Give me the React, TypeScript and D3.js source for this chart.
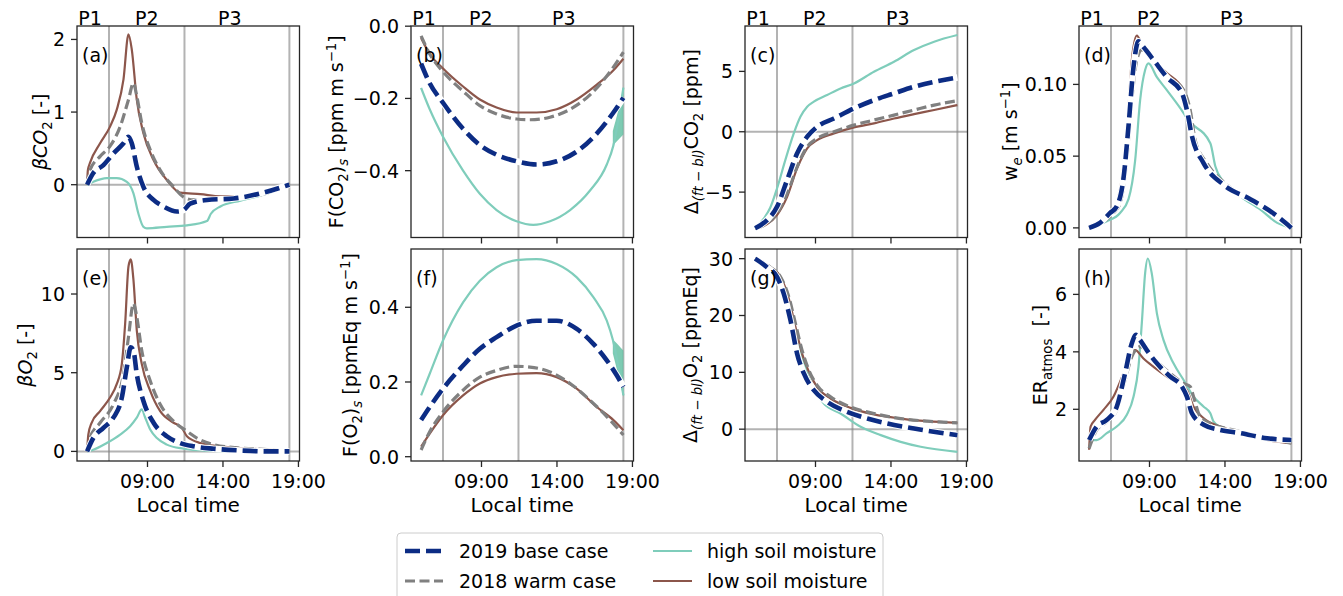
import React from 'react';
import * as d3 from 'd3';

type P = [number, number];

// ---------- shared axis data ----------
const TIME_TICKS = [9, 14, 19];
const TIME_TICK_LABELS = ['09:00', '14:00', '19:00'];
const PERIOD_BOUNDS = [6.45, 11.45, 18.4];
const PERIOD_NAMES = ['P1', 'P2', 'P3'];
const PERIOD_NAME_TIMES = [5.2, 8.95, 14.45];
const SERIES_NAMES = ['2019 base case', '2018 warm case', 'high soil moisture', 'low soil moisture'];

// ---------- (a) beta CO2 ----------
const A_BASE: P[] = [[5.0,0],[5.41,0.16],[6.08,0.27],[6.74,0.43],[7.41,0.57],[7.74,0.66],[7.96,0.57],[8.29,0.25],[8.73,-0.03],[9.40,-0.21],[10.06,-0.30],[10.95,-0.37],[11.39,-0.35],[11.83,-0.26],[12.94,-0.21],[14.71,-0.19],[16.48,-0.12],[18.4,0]];
const A_WARM: P[] = [[5.0,0],[5.19,0.2],[5.86,0.39],[6.52,0.53],[7.19,0.8],[7.74,1.17],[8.07,1.40],[8.29,1.22],[8.62,0.85],[9.18,0.48],[9.84,0.2],[10.73,-0.03],[11.39,-0.17],[12.05,-0.21],[12.94,-0.21],[14.71,-0.19],[16.48,-0.14],[18.4,0]];
const A_HIGH: P[] = [[5.0,0],[5.41,0.04],[6.3,0.09],[6.96,0.09],[7.63,0.04],[8.07,-0.12],[8.40,-0.40],[8.73,-0.58],[8.96,-0.60],[10.28,-0.58],[11.61,-0.56],[12.94,-0.50],[13.2,-0.40],[13.83,-0.30],[15.15,-0.22],[16.48,-0.15],[17.5,-0.08],[18.4,0.02]];
const A_LOW: P[] = [[5.0,0.0],[5.05,0.2],[5.19,0.3],[5.86,0.57],[6.52,0.80],[6.96,1.03],[7.41,1.45],[7.74,2.07],[7.96,1.86],[8.29,1.17],[8.73,0.71],[9.40,0.34],[10.28,0.065],[11.17,-0.11],[12.5,-0.13],[13.83,-0.16],[15.15,-0.16],[16.48,-0.13],[17.37,-0.07],[18.4,0.02]];
const A_TICKS = [0, 1, 2];

// ---------- (b) F(CO2)s ----------
const B_BASE: P[] = [[5.0,-0.104],[5.57,-0.158],[6.45,-0.212],[7.78,-0.284],[8.89,-0.329],[10.0,-0.356],[11.32,-0.374],[12.65,-0.383],[13.98,-0.374],[15.31,-0.347],[16.64,-0.297],[17.74,-0.239],[18.4,-0.198]];
const B_WARM: P[] = [[5.0,-0.027],[5.57,-0.077],[6.45,-0.126],[7.78,-0.18],[8.89,-0.22],[10.0,-0.243],[11.32,-0.257],[12.21,-0.259],[13.54,-0.252],[14.87,-0.23],[16.19,-0.19],[17.52,-0.126],[18.4,-0.072]];
const B_HIGH: P[] = [[5.0,-0.171],[5.57,-0.23],[6.45,-0.306],[7.78,-0.40],[8.89,-0.464],[10.0,-0.509],[11.32,-0.54],[12.43,-0.55],[13.54,-0.54],[14.87,-0.509],[16.19,-0.455],[17.3,-0.383],[17.74,-0.33],[18.4,-0.17]];
const B_LOW: P[] = [[5.0,-0.033],[5.57,-0.077],[6.45,-0.117],[7.78,-0.167],[8.89,-0.203],[10.0,-0.225],[11.32,-0.239],[12.65,-0.239],[13.98,-0.23],[15.31,-0.203],[16.64,-0.162],[17.74,-0.122],[18.4,-0.09]];
const B_FILL_T = [17.7, 18.05, 18.4];
const B_FILL_LO = [-0.33, -0.315, -0.30];
const B_FILL_HI = [-0.29, -0.235, -0.17];
const B_TICKS = [0, -0.2, -0.4];

// ---------- (c) Delta CO2 ----------
const C_BASE: P[] = [[5.0,-8.0],[5.79,-7.32],[6.45,-6.22],[7.12,-4.0],[7.78,-1.8],[8.45,-0.41],[9.11,0.41],[10.22,1.1],[11.55,1.93],[12.87,2.62],[14.2,3.18],[15.53,3.73],[16.86,4.14],[18.4,4.5]];
const C_WARM: P[] = [[5.0,-8.0],[5.79,-7.6],[6.45,-6.77],[7.12,-5.11],[7.78,-2.9],[8.45,-1.24],[9.11,-0.55],[10.22,0],[11.55,0.55],[12.87,0.97],[14.2,1.38],[15.53,1.80],[16.86,2.21],[18.4,2.57]];
const C_HIGH: P[] = [[5.0,-8.0],[5.57,-7.2],[6.0,-6.3],[6.45,-4.7],[7.0,-2.35],[7.56,-0.14],[8.0,1.24],[8.45,2.07],[8.89,2.49],[9.77,3.04],[10.66,3.59],[11.55,4.0],[12.87,4.97],[14.2,5.8],[15.53,6.77],[16.86,7.46],[18.4,8.01]];
const C_LOW: P[] = [[5.0,-8.0],[5.79,-7.65],[6.45,-6.9],[7.12,-5.39],[7.78,-3.04],[8.45,-1.38],[9.11,-0.69],[10.22,-0.14],[11.55,0.36],[12.87,0.69],[14.2,1.1],[15.53,1.46],[16.86,1.8],[18.4,2.21]];
const C_TICKS = [-5, 0, 5];

// ---------- (d) we ----------
const D_BASE: P[] = [[5.0,0],[5.72,0.0035],[6.39,0.0104],[6.83,0.015],[7.27,0.034],[7.61,0.071],[7.94,0.112],[8.27,0.130],[8.60,0.126],[9.27,0.117],[10.15,0.105],[11.15,0.094],[11.48,0.082],[11.81,0.064],[12.59,0.045],[13.91,0.030],[15.68,0.020],[17.23,0.010],[18.4,0]];
const D_WARM: P[] = [[5.0,0],[5.72,0.003],[6.61,0.0104],[7.05,0.017],[7.49,0.047],[7.83,0.089],[8.16,0.117],[8.49,0.124],[9.04,0.119],[10.15,0.106],[11.26,0.096],[11.7,0.082],[12.03,0.061],[12.81,0.045],[14.13,0.030],[15.68,0.020],[17.23,0.010],[18.4,0]];
const D_HIGH: P[] = [[5.0,0],[6.17,0.0046],[7.05,0.0104],[7.61,0.020],[8.05,0.047],[8.38,0.089],[8.71,0.110],[8.93,0.1146],[9.49,0.105],[10.15,0.096],[11.26,0.080],[11.5,0.076],[13.03,0.059],[13.36,0.043],[13.91,0.032],[15.02,0.022],[16.35,0.0127],[17.46,0.0035],[18.4,0]];
const D_LOW: P[] = [[5.0,0],[5.72,0.0035],[6.39,0.0093],[6.83,0.017],[7.27,0.043],[7.61,0.084],[7.83,0.117],[8.16,0.134],[8.49,0.128],[9.04,0.119],[10.15,0.108],[11.26,0.096],[11.48,0.078],[11.92,0.059],[12.81,0.043],[14.13,0.029],[15.68,0.020],[17.23,0.010],[18.4,0.001]];
const D_TICKS = [0, 0.05, 0.1];

// ---------- (e) beta O2 ----------
const E_BASE: P[] = [[5.0,0],[5.41,0.85],[6.08,1.5],[6.74,2.14],[7.30,3.42],[7.63,5.34],[7.89,6.62],[8.07,6.41],[8.29,4.91],[8.73,3.2],[9.40,1.82],[10.28,0.96],[11.17,0.53],[12.05,0.32],[13.38,0.17],[15.15,0.06],[16.92,0],[18.4,0]];
const E_WARM: P[] = [[5.0,0],[5.19,0.85],[5.86,1.82],[6.74,2.99],[7.41,4.91],[7.74,7.26],[8.07,9.4],[8.29,8.55],[8.62,6.41],[9.18,4.49],[9.84,2.99],[10.73,1.92],[11.61,1.28],[12.27,0.85],[13.38,0.43],[15.15,0.21],[16.92,0.11],[18.4,0]];
const E_HIGH: P[] = [[5.0,0],[5.41,0.1],[6.30,0.53],[7.19,1.07],[7.85,1.6],[8.29,2.14],[8.62,2.67],[8.85,2.14],[9.18,1.39],[9.62,0.85],[10.28,0.43],[11.39,0.17],[12.94,0.04],[14.71,0],[18.4,0]];
const E_LOW: P[] = [[5.0,0],[5.08,1.07],[5.30,1.82],[5.86,2.56],[6.52,3.42],[6.96,4.27],[7.30,5.56],[7.52,8.12],[7.74,11.75],[7.89,12.2],[8.07,10.9],[8.29,7.69],[8.62,5.56],[9.18,3.85],[9.84,2.56],[10.73,1.82],[11.28,1.5],[11.61,0.96],[12.5,0.53],[13.83,0.32],[15.15,0.21],[16.92,0.11],[18.4,0.04]];
const E_TICKS = [0, 5, 10];

// ---------- (f) F(O2)s ----------
const F_BASE: P[] = [[5.0,0.098],[5.57,0.133],[6.45,0.182],[7.78,0.244],[8.89,0.289],[10.0,0.32],[11.32,0.351],[12.65,0.364],[13.98,0.364],[15.31,0.342],[16.41,0.302],[17.3,0.258],[17.96,0.218],[18.4,0.187]];
const F_WARM: P[] = [[5.0,0.018],[5.57,0.067],[6.45,0.12],[7.78,0.178],[8.89,0.213],[10.0,0.231],[11.32,0.242],[12.21,0.24],[13.54,0.227],[14.87,0.196],[16.19,0.151],[17.52,0.098],[18.4,0.058]];
const F_HIGH: P[] = [[5.0,0.164],[5.57,0.222],[6.45,0.311],[7.78,0.413],[8.89,0.471],[10.0,0.507],[11.32,0.526],[12.65,0.529],[13.98,0.516],[15.31,0.48],[16.41,0.427],[17.3,0.364],[17.7,0.313],[18.4,0.164]];
const F_LOW: P[] = [[5.0,0.027],[5.57,0.062],[6.45,0.111],[7.78,0.164],[8.89,0.196],[10.0,0.213],[11.32,0.222],[12.65,0.224],[13.98,0.213],[15.31,0.182],[16.64,0.133],[17.74,0.098],[18.4,0.071]];
const F_FILL_T = [17.7, 18.05, 18.4];
const F_FILL_LO = [0.276, 0.22, 0.16];
const F_FILL_HI = [0.313, 0.30, 0.284];
const F_TICKS = [0, 0.2, 0.4];

// ---------- (g) Delta O2 ----------
const G_BASE: P[] = [[5.0,30],[5.79,28.5],[6.45,26.8],[6.90,23.8],[7.34,19.2],[7.78,13.3],[8.23,9.8],[8.89,6.85],[9.77,4.8],[11.1,3.05],[12.43,1.87],[13.76,1.0],[15.53,0.12],[18.4,-1.05]];
const G_WARM: P[] = [[5.0,30],[6.01,28.5],[6.68,26.8],[7.23,23.3],[7.67,18.6],[8.11,13.9],[8.56,10.4],[9.11,7.7],[10.0,5.7],[11.32,3.9],[12.87,2.75],[14.64,1.87],[16.41,1.4],[18.4,1.1]];
const G_HIGH: P[] = [[5.0,30],[5.79,28.5],[6.45,26.8],[7.0,23.3],[7.56,18.0],[8.0,13.9],[8.45,9.8],[8.89,7.15],[9.55,4.5],[10.66,2.75],[11.99,0.41],[13.32,-1.05],[14.64,-2.23],[15.97,-3.1],[18.4,-3.98]];
const G_LOW: P[] = [[5.0,30],[6.01,28.5],[6.68,26.8],[7.23,23.0],[7.67,18.0],[8.11,13.3],[8.56,10.1],[9.11,7.4],[10.0,5.4],[11.32,3.75],[12.87,2.6],[14.64,1.87],[16.41,1.4],[18.4,1.1]];
const G_TICKS = [0, 10, 20, 30];

// ---------- (h) ER atmos ----------
const H_BASE: P[] = [[5.0,0.93],[5.5,1.40],[6.17,1.63],[6.83,2.09],[7.38,3.25],[7.83,4.30],[8.11,4.59],[8.38,4.41],[8.82,4.06],[9.49,3.6],[10.37,3.14],[11.15,2.79],[11.48,2.44],[11.81,1.86],[12.59,1.46],[13.69,1.28],[15.02,1.17],[16.79,0.99],[18.4,0.93]];
const H_WARM: P[] = [[5.0,0.64],[5.5,1.28],[6.17,1.57],[6.83,1.98],[7.38,3.02],[7.83,3.83],[8.38,4.18],[8.82,4.06],[9.49,3.66],[10.37,3.25],[11.26,2.9],[11.70,2.79],[11.92,2.44],[12.36,1.74],[13.25,1.46],[14.58,1.28],[16.35,1.05],[18.4,0.82]];
const H_HIGH: P[] = [[5.0,0.93],[5.5,0.93],[6.17,1.17],[6.83,1.40],[7.49,1.80],[7.94,2.44],[8.27,3.48],[8.49,4.99],[8.71,6.73],[8.89,7.25],[9.15,6.73],[9.49,5.34],[9.93,4.41],[10.59,3.6],[11.26,3.02],[11.92,2.44],[12.59,2.09],[13.03,1.86],[13.25,1.57],[14.13,1.28],[15.46,1.11],[16.79,0.93],[18.4,0.88]];
const H_LOW: P[] = [[5.0,0.59],[5.1,1.4],[5.39,1.63],[5.95,1.98],[6.61,2.44],[7.27,3.25],[7.72,3.89],[8.05,4.06],[8.60,3.77],[9.27,3.48],[10.15,3.14],[11.04,2.85],[11.48,2.67],[11.92,2.09],[12.59,1.69],[13.69,1.40],[15.02,1.17],[16.79,0.93],[18.4,0.82]];
const H_TICKS = [2, 4, 6];

// ---------- labels ----------
type Seg = { t: string; s?: 'sub' | 'sup'; i?: boolean };
const YLAB_A: Seg[] = [{ t: 'βCO', i: true }, { t: '2', s: 'sub' }, { t: ' [-]' }];
const YLAB_B: Seg[] = [{ t: 'F(CO' }, { t: '2', s: 'sub' }, { t: ')' }, { t: 's', s: 'sub', i: true }, { t: ' [ppm m s' }, { t: '−1', s: 'sup' }, { t: ']' }];
const YLAB_C: Seg[] = [{ t: 'Δ' }, { t: '(ft − bl)', s: 'sub', i: true }, { t: 'CO' }, { t: '2', s: 'sub' }, { t: ' [ppm]' }];
const YLAB_D: Seg[] = [{ t: 'w' }, { t: 'e', s: 'sub', i: true }, { t: ' [m s' }, { t: '−1', s: 'sup' }, { t: ']' }];
const YLAB_E: Seg[] = [{ t: 'βO', i: true }, { t: '2', s: 'sub' }, { t: ' [-]' }];
const YLAB_F: Seg[] = [{ t: 'F(O' }, { t: '2', s: 'sub' }, { t: ')' }, { t: 's', s: 'sub', i: true }, { t: ' [ppmEq m s' }, { t: '−1', s: 'sup' }, { t: ']' }];
const YLAB_G: Seg[] = [{ t: 'Δ' }, { t: '(ft − bl)', s: 'sub', i: true }, { t: 'O' }, { t: '2', s: 'sub' }, { t: ' [ppmEq]' }];
const YLAB_H: Seg[] = [{ t: 'ER' }, { t: 'atmos', s: 'sub' }, { t: '  [-]' }];

// ---------- layout / style ----------
const W = 1343, H = 596;
const COL_LEFT = [77, 411, 745, 1079];
const AX_W = 222.5;
const ROW_TOP = [26, 249];
const ROW_BOTTOM = [237.5, 461];
const X_DOMAIN = [4.33, 19.07];
const FONT = '"DejaVu Sans", Verdana, sans-serif';
const FS = 19;
const FS_XLAB = 20;
const C_BASE_COL = '#0c2c84';
const C_WARM_COL = '#808080';
const C_HIGH_COL = '#7fcdbb';
const C_LOW_COL = '#8c564b';

interface PanelCfg {
  id: string; row: number; col: number; y: [number, number]; ticks: number[]; fmt: string; zero: boolean;
  base: P[]; warm: P[]; high: P[]; low: P[]; ylab: Seg[]; ylabDx: number; fill?: { t: number[]; lo: number[]; hi: number[] };
}

const PANELS: PanelCfg[] = [
  { id: 'a', row: 0, col: 0, y: [-0.727, 2.185], ticks: A_TICKS, fmt: 'd', zero: true, base: A_BASE, warm: A_WARM, high: A_HIGH, low: A_LOW, ylab: YLAB_A, ylabDx: -30 },
  { id: 'b', row: 0, col: 1, y: [-0.585, 0.0005], ticks: B_TICKS, fmt: '.1f', zero: false, base: B_BASE, warm: B_WARM, high: B_HIGH, low: B_LOW, ylab: YLAB_B, ylabDx: -68, fill: { t: B_FILL_T, lo: B_FILL_LO, hi: B_FILL_HI } },
  { id: 'c', row: 0, col: 2, y: [-8.76, 8.76], ticks: C_TICKS, fmt: 'd', zero: true, base: C_BASE, warm: C_WARM, high: C_HIGH, low: C_LOW, ylab: YLAB_C, ylabDx: -47 },
  { id: 'd', row: 0, col: 3, y: [-0.0067, 0.1407], ticks: D_TICKS, fmt: '.2f', zero: false, base: D_BASE, warm: D_WARM, high: D_HIGH, low: D_LOW, ylab: YLAB_D, ylabDx: -62 },
  { id: 'e', row: 1, col: 0, y: [-0.61, 12.86], ticks: E_TICKS, fmt: 'd', zero: true, base: E_BASE, warm: E_WARM, high: E_HIGH, low: E_LOW, ylab: YLAB_E, ylabDx: -45 },
  { id: 'f', row: 1, col: 1, y: [-0.0115, 0.556], ticks: F_TICKS, fmt: '.1f', zero: false, base: F_BASE, warm: F_WARM, high: F_HIGH, low: F_LOW, ylab: YLAB_F, ylabDx: -54, fill: { t: F_FILL_T, lo: F_FILL_LO, hi: F_FILL_HI } },
  { id: 'g', row: 1, col: 2, y: [-5.6, 31.7], ticks: G_TICKS, fmt: 'd', zero: true, base: G_BASE, warm: G_WARM, high: G_HIGH, low: G_LOW, ylab: YLAB_G, ylabDx: -48 },
  { id: 'h', row: 1, col: 3, y: [0.2, 7.58], ticks: H_TICKS, fmt: 'd', zero: false, base: H_BASE, warm: H_WARM, high: H_HIGH, low: H_LOW, ylab: YLAB_H, ylabDx: -32 },
];

function MathLabel({ segs }: { segs: Seg[] }) {
  let cur = 0;
  return (
    <>
      {segs.map((s, i) => {
        const target = s.s === 'sub' ? 4.5 : s.s === 'sup' ? -7.5 : 0;
        const dy = target - cur;
        cur = target;
        return (
          <tspan key={i} dy={dy} fontSize={s.s ? FS * 0.7 : FS} fontStyle={s.i ? 'italic' : 'normal'}>
            {s.t}
          </tspan>
        );
      })}
    </>
  );
}

function Panel({ p }: { p: PanelCfg }) {
  const left = COL_LEFT[p.col];
  const right = left + AX_W;
  const top = ROW_TOP[p.row];
  const bottom = ROW_BOTTOM[p.row];
  const x = d3.scaleLinear().domain(X_DOMAIN).range([left, right]);
  const y = d3.scaleLinear().domain(p.y).range([bottom, top]);
  const line = d3.line<P>().x((d) => x(d[0])).y((d) => y(d[1])).curve(d3.curveMonotoneX);
  const fmt = d3.format(p.fmt);
  let fillPath: string | null = null;
  if (p.fill) {
    const f = p.fill;
    const idx = f.t.map((_, i) => i);
    fillPath = d3.area<number>().x((i) => x(f.t[i])).y0((i) => y(f.lo[i])).y1((i) => y(f.hi[i])).curve(d3.curveMonotoneX)(idx);
  }
  const cy = (top + bottom) / 2;
  return (
    <g>
      {PERIOD_BOUNDS.map((t, i) => (
        <line key={'pb' + i} x1={x(t)} x2={x(t)} y1={top} y2={bottom} stroke="gray" strokeOpacity={0.6} strokeWidth={2} />
      ))}
      {p.zero && <line x1={left} x2={right} y1={y(0)} y2={y(0)} stroke="gray" strokeOpacity={0.6} strokeWidth={2} />}
      {fillPath && <path d={fillPath} fill="#66c2a5" fillOpacity={0.85} stroke="none" />}
      <path d={line(p.high) || ''} fill="none" stroke={C_HIGH_COL} strokeWidth={2.2} />
      <path d={line(p.low) || ''} fill="none" stroke={C_LOW_COL} strokeWidth={2.2} />
      <path d={line(p.warm) || ''} fill="none" stroke={C_WARM_COL} strokeWidth={3.2} strokeDasharray="10 4.5" />
      <path d={line(p.base) || ''} fill="none" stroke="#ffffff" strokeWidth={6.5} />
      <path d={line(p.base) || ''} fill="none" stroke={C_BASE_COL} strokeWidth={4.6} strokeDasharray="15 6" />
      <rect x={left} y={top} width={AX_W} height={bottom - top} fill="none" stroke="#262626" strokeWidth={1.3} />
      {p.ticks.map((v) => (
        <g key={'yt' + v}>
          <line x1={left - 6} x2={left} y1={y(v)} y2={y(v)} stroke="#262626" strokeWidth={1.3} />
          <text x={left - 12} y={y(v)} dy="0.36em" textAnchor="end" fontSize={FS} fontFamily={FONT} fill="#000">
            {fmt(v)}
          </text>
        </g>
      ))}
      {TIME_TICKS.map((t, i) => (
        <g key={'xt' + t}>
          <line x1={x(t)} x2={x(t)} y1={bottom} y2={bottom + 6} stroke="#262626" strokeWidth={1.3} />
          {p.row === 1 && (
            <text x={x(t)} y={bottom + 27} textAnchor="middle" fontSize={FS} fontFamily={FONT} fill="#000">
              {TIME_TICK_LABELS[i]}
            </text>
          )}
        </g>
      ))}
      {p.row === 1 && (
        <text x={(left + right) / 2} y={bottom + 51} textAnchor="middle" fontSize={FS_XLAB} fontFamily={FONT} fill="#000">
          Local time
        </text>
      )}
      {p.row === 0 &&
        PERIOD_NAMES.map((n, i) => (
          <text key={n} x={x(PERIOD_NAME_TIMES[i])} y={top - 1} textAnchor="middle" fontSize={FS} fontFamily={FONT} fill="#000">
            {n}
          </text>
        ))}
      <text x={left + 5} y={top + 36} fontSize={FS} fontFamily={FONT} fill="#000">
        ({p.id})
      </text>
      <text
        transform={`translate(${left + p.ylabDx},${cy}) rotate(-90)`}
        textAnchor="middle"
        fontSize={FS}
        fontFamily={FONT}
        fill="#000"
        style={{ whiteSpace: 'pre' }}
      >
        <MathLabel segs={p.ylab} />
      </text>
    </g>
  );
}

function Legend() {
  const bx = 397, by = 533, bw = 486, bh = 80;
  const rows = [551, 581];
  const handleX = [[405, 443], [653, 692]];
  const textX = [459, 707];
  const styles = [
    { stroke: C_BASE_COL, w: 4.6, dash: '15 6' },
    { stroke: C_WARM_COL, w: 3.2, dash: '10 4.5' },
    { stroke: C_HIGH_COL, w: 2.2, dash: undefined },
    { stroke: C_LOW_COL, w: 2.2, dash: undefined },
  ];
  return (
    <g>
      <rect x={bx} y={by} width={bw} height={bh} rx={4} fill="#fff" fillOpacity={0.8} stroke="#cccccc" strokeWidth={1} />
      {SERIES_NAMES.map((name, i) => {
        const col = Math.floor(i / 2);
        const row = i % 2;
        const st = styles[i];
        return (
          <g key={name}>
            <line x1={handleX[col][0]} x2={handleX[col][1]} y1={rows[row]} y2={rows[row]} stroke={st.stroke} strokeWidth={st.w} strokeDasharray={st.dash} />
            <text x={textX[col]} y={rows[row]} dy="0.36em" fontSize={FS} fontFamily={FONT} fill="#000">
              {name}
            </text>
          </g>
        );
      })}
    </g>
  );
}

export default function App() {
  return (
    <svg width={W} height={H} viewBox={`0 0 ${W} ${H}`} style={{ position: 'absolute', left: 0, top: 0, display: 'block', background: '#fff' }}>
      <rect x={0} y={0} width={W} height={H} fill="#fff" />
      {PANELS.map((p) => (
        <Panel key={p.id} p={p} />
      ))}
      <Legend />
    </svg>
  );
}
